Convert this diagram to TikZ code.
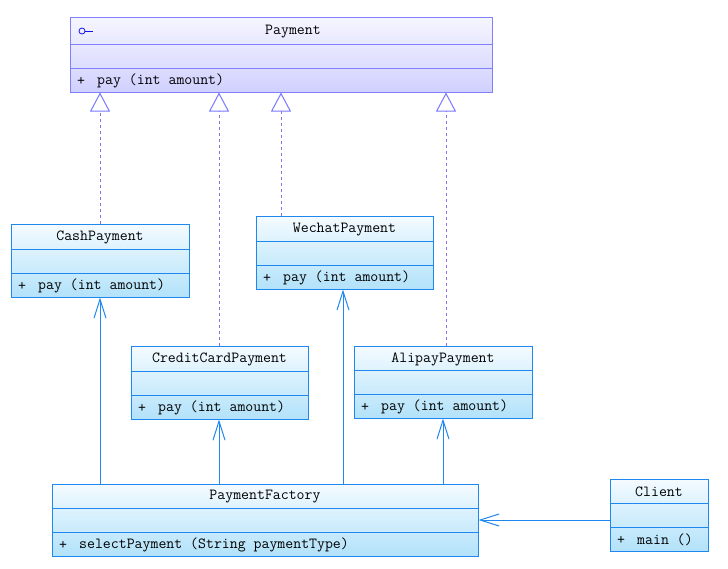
\documentclass[tikz,border=0pt]{standalone}
\usepackage{fontspec}
\usetikzlibrary{arrows.meta}
\definecolor{clsborder}{RGB}{30,136,240}
\definecolor{clstop}{RGB}{244,251,255}
\definecolor{clsbot}{RGB}{178,226,250}
\definecolor{ifborder}{RGB}{128,128,255}
\definecolor{iftop}{RGB}{246,246,255}
\definecolor{ifbot}{RGB}{208,208,255}
\definecolor{realcol}{RGB}{140,110,230}
\definecolor{tricol}{RGB}{120,120,255}
\definecolor{iconcol}{RGB}{20,20,230}
\tikzset{
  boxbase/.style={rectangle, inner sep=0pt, line width=1pt},
  cls/.style={boxbase, draw=clsborder, top color=clstop, bottom color=clsbot},
  ifc/.style={boxbase, draw=ifborder, top color=iftop, bottom color=ifbot},
  clsline/.style={draw=clsborder, line width=1pt},
  ifcline/.style={draw=ifborder, line width=1pt},
  txt/.style={font=\ttfamily\fontsize{15.4}{16}\selectfont, inner sep=0pt, text=black},
  realize/.style={draw=realcol, line width=1pt, dash pattern=on 3pt off 3pt,
    -{Triangle[length=19pt, width=20pt, color=tricol, fill=white, line width=1pt]}},
  assoc/.style={draw=clsborder, line width=1pt,
    -{Straight Barb[length=19pt, width=12pt, line width=1pt]}},
}
% #1 style, #2 name, #3 x1, #4 y1, #5 x2, #6 y2, #7 title, #8 method, #9 title x shift
\newcommand{\umlclass}[9]{%
  \node[#1, minimum width={(#5-#3)*1pt}, minimum height={(#6-#4)*1pt}] (#2) at ({(#3+#5)/2},{(#4+#6)/2}) {};
  \draw[#1line] ({#3},{#6-48}) -- ({#5},{#6-48});
  \draw[#1line] ({#3},{#6-24}) -- ({#5},{#6-24});
  \node[txt] (#2-title) at ({(#3+#5)/2+#9},{(#4+#6-48)/2+1}) {#7};
  \node[txt, anchor=west] (#2-plus) at ({#3+7},{#6-11}) {+};
  \node[txt, anchor=west] (#2-method) at ({#3+27},{#6-11}) {#8};
}
\begin{document}
\begin{tikzpicture}[x=1pt, y=-1pt]
\useasboundingbox[fill=white] (0,0) rectangle (728,568);

\umlclass{ifc}{pay}{70}{17}{492}{92}{Payment}{pay (int amount)}{12}
\draw[iconcol, line width=0.8pt] (82,31) circle (3pt);
\draw[iconcol, line width=0.8pt] (85,31) -- (93,31);

\umlclass{cls}{cash}{11}{224}{189}{297}{CashPayment}{pay (int amount)}{0}
\umlclass{cls}{wechat}{256}{216}{433}{289}{WechatPayment}{pay (int amount)}{0}
\umlclass{cls}{credit}{131}{346}{308}{419}{CreditCardPayment}{pay (int amount)}{0}
\umlclass{cls}{alipay}{354}{346}{532}{418}{AlipayPayment}{pay (int amount)}{0}
\umlclass{cls}{fac}{52}{484}{478}{556}{PaymentFactory}{selectPayment (String paymentType)}{0}
\umlclass{cls}{client}{610}{479}{708}{551}{Client}{main ()}{0}

% realizations
\draw[realize] (cash.north -| 100,0) -- (pay.south -| 100,0);
\draw[realize] (credit.north -| 219,0) -- (pay.south -| 219,0);
\draw[realize] (wechat.north -| 281,0) -- (pay.south -| 281,0);
\draw[realize] (alipay.north -| 446,0) -- (pay.south -| 446,0);

% associations
\draw[assoc] (fac.north -| 100,0) -- (cash.south -| 100,0);
\draw[assoc] (fac.north -| 219,0) -- (credit.south -| 219,0);
\draw[assoc] (fac.north -| 343,0) -- (wechat.south -| 343,0);
\draw[assoc] (fac.north -| 443,0) -- (alipay.south -| 443,0);
\draw[assoc] (client.west |- fac.east) -- (fac.east);
\end{tikzpicture}
\end{document}
